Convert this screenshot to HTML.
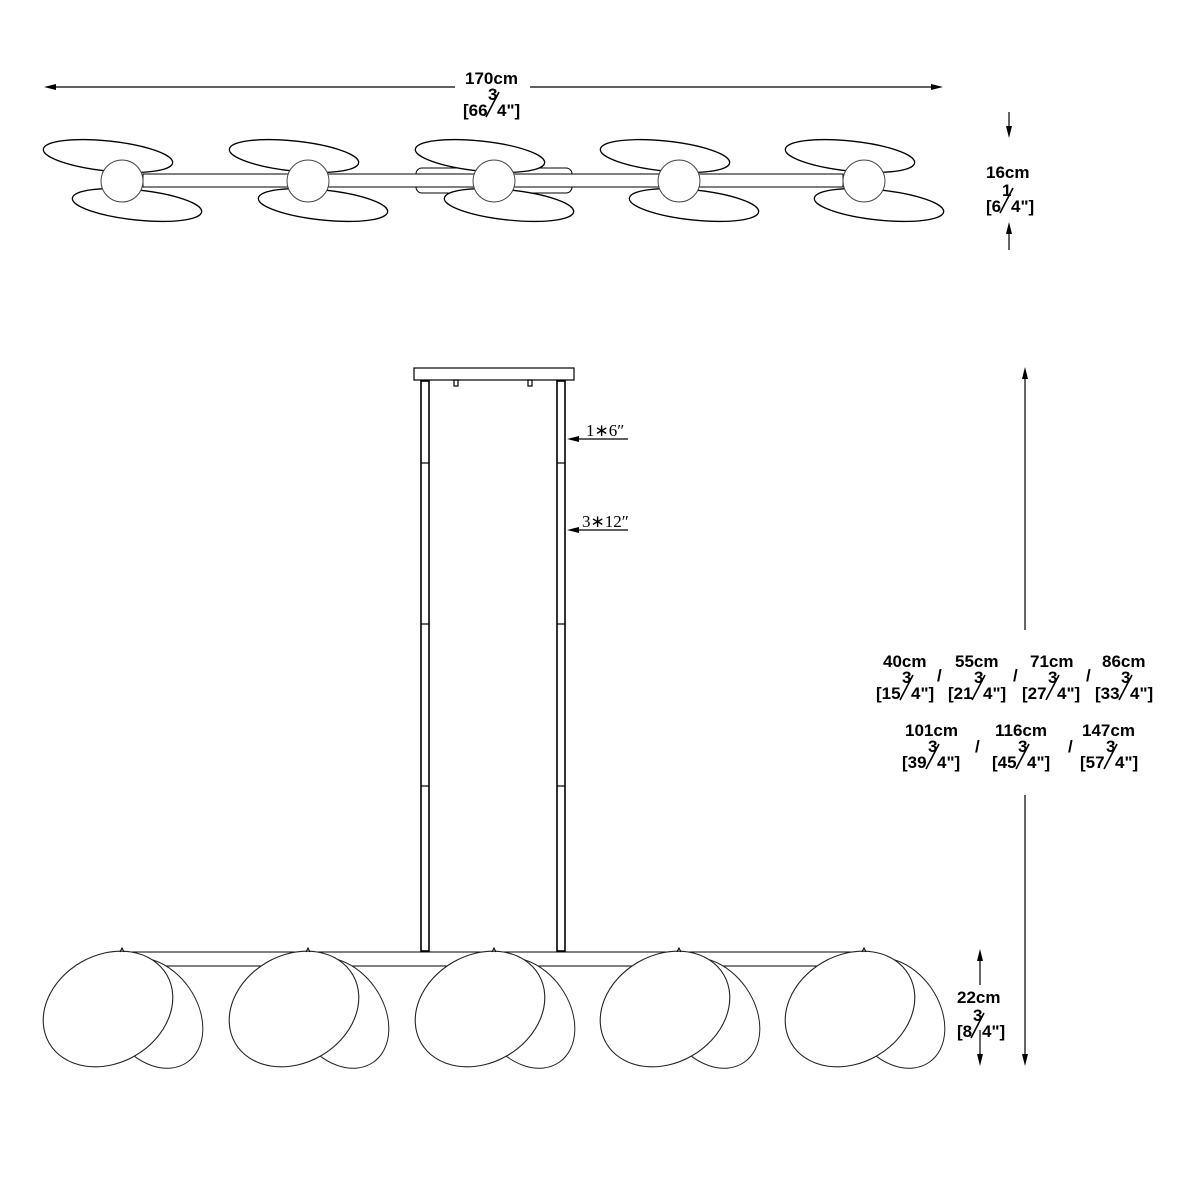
<!DOCTYPE html>
<html><head><meta charset="utf-8"><style>body{margin:0;background:#fff}svg{display:block}text{font-family:"Liberation Sans",Arial,sans-serif;font-size:17px;font-weight:bold;fill:#000}.s{font-family:"Liberation Serif",serif;font-size:17px;font-weight:normal}</style></head><body>
<svg width="1200" height="1200" viewBox="0 0 1200 1200" xmlns="http://www.w3.org/2000/svg">
<defs>
<g id="tu">
<ellipse cx="-14" cy="-25" rx="65" ry="15" transform="rotate(6 -14 -25)" fill="#fff" stroke="#000" stroke-width="1.3"/>
<ellipse cx="15" cy="24" rx="65" ry="15" transform="rotate(6 15 24)" fill="#fff" stroke="#000" stroke-width="1.3"/>
<circle cx="0" cy="0" r="21" fill="#fff" stroke="#444" stroke-width="1"/>
</g>
<g id="bu">
<ellipse cx="45" cy="4" rx="60" ry="44" transform="rotate(55 45 4)" fill="#fff" stroke="#222" stroke-width="1"/>
<ellipse cx="0" cy="0" rx="68" ry="54" transform="rotate(-30)" fill="#fff" stroke="#222" stroke-width="1.1"/>
<path d="M12,-57 l2,-4 l2,4" fill="none" stroke="#000"/>
</g>
</defs>
<g fill="none" stroke="#000" stroke-width="1.3">
<line x1="50" y1="87" x2="455" y2="87"/><line x1="530" y1="87" x2="937" y2="87"/>
</g>
<polygon points="44,87 56,84 56,90" fill="#000"/>
<polygon points="943,87 931,84 931,90" fill="#000"/>
<g fill="none" stroke="#000">
<rect x="416" y="168" width="156" height="25" rx="6" stroke-width="1"/>
<rect x="143" y="174" width="700" height="13" fill="#fff" stroke-width="1"/>
</g>
<use href="#tu" x="122" y="181"/>
<use href="#tu" x="308" y="181"/>
<use href="#tu" x="494" y="181"/>
<use href="#tu" x="679" y="181"/>
<use href="#tu" x="864" y="181"/>
<g fill="none" stroke="#000" stroke-width="1.2">
<line x1="1009" y1="112" x2="1009" y2="130"/>
<line x1="1009" y1="250" x2="1009" y2="230"/>
<rect x="414" y="368" width="160" height="12" fill="#fff"/>
<rect x="454" y="380" width="4" height="6"/><rect x="528" y="380" width="4" height="6"/>
<rect x="421" y="381" width="8" height="570" stroke-width="1.6"/>
<rect x="557" y="381" width="8" height="570" stroke-width="1.6"/>
<line x1="421" y1="463" x2="429" y2="463"/><line x1="557" y1="463" x2="565" y2="463"/>
<line x1="421" y1="624" x2="429" y2="624"/><line x1="557" y1="624" x2="565" y2="624"/>
<line x1="421" y1="786" x2="429" y2="786"/><line x1="557" y1="786" x2="565" y2="786"/>
<line x1="628" y1="439" x2="575" y2="439"/>
<line x1="628" y1="530" x2="575" y2="530"/>
<line x1="122" y1="952" x2="866" y2="952" stroke-width="1"/>
<line x1="150" y1="966" x2="890" y2="966" stroke-width="1"/>
<line x1="1025" y1="630" x2="1025" y2="378"/>
<line x1="1025" y1="795" x2="1025" y2="1055"/>
<line x1="980" y1="985" x2="980" y2="960"/>
<line x1="980" y1="1030" x2="980" y2="1055"/>
</g>
<g fill="#000">
<polygon points="1009,138 1006,126 1012,126"/>
<polygon points="1009,222 1006,234 1012,234"/>
<polygon points="567,439 579,436 579,442"/>
<polygon points="567,530 579,527 579,533"/>
<polygon points="1025,367 1022,379 1028,379"/>
<polygon points="1025,1066 1022,1054 1028,1054"/>
<polygon points="980,949 977,961 983,961"/>
<polygon points="980,1066 977,1054 983,1054"/>
</g>
<use href="#bu" x="108" y="1009"/>
<use href="#bu" x="294" y="1009"/>
<use href="#bu" x="480" y="1009"/>
<use href="#bu" x="665" y="1009"/>
<use href="#bu" x="850" y="1009"/>
<g stroke="#000" stroke-width="1.6">
<line x1="486" y1="117" x2="499" y2="92"/>
<line x1="1000" y1="213" x2="1013" y2="188"/>
<line x1="971" y1="1038" x2="984" y2="1013"/>
<line x1="900" y1="700" x2="913" y2="675"/>
<line x1="972" y1="700" x2="985" y2="675"/>
<line x1="1046" y1="700" x2="1059" y2="675"/>
<line x1="1119" y1="700" x2="1132" y2="675"/>
<line x1="926" y1="769" x2="939" y2="744"/>
<line x1="1016" y1="769" x2="1029" y2="744"/>
<line x1="1104" y1="769" x2="1117" y2="744"/>
</g>
<text x="465" y="84">170cm</text>
<text x="463" y="116">[66</text><text x="488" y="100">3</text><text x="497" y="116">4"]</text>
<text x="986" y="178">16cm</text>
<text x="986" y="212">[6</text><text x="1002" y="196">1</text><text x="1011" y="212">4"]</text>
<text x="957" y="1003">22cm</text>
<text x="957" y="1037">[8</text><text x="973" y="1021">3</text><text x="982" y="1037">4"]</text>
<text class="s" x="586" y="436">1∗6″</text>
<text class="s" x="582" y="527">3∗12″</text>
<text x="883" y="667">40cm</text><text x="876" y="699">[15</text><text x="902" y="683">3</text><text x="911" y="699">4"]</text><text x="937" y="681">/</text>
<text x="955" y="667">55cm</text><text x="948" y="699">[21</text><text x="974" y="683">3</text><text x="983" y="699">4"]</text><text x="1013" y="681">/</text>
<text x="1030" y="667">71cm</text><text x="1022" y="699">[27</text><text x="1048" y="683">3</text><text x="1057" y="699">4"]</text><text x="1086" y="681">/</text>
<text x="1102" y="667">86cm</text><text x="1095" y="699">[33</text><text x="1121" y="683">3</text><text x="1130" y="699">4"]</text>
<text x="905" y="736">101cm</text><text x="902" y="768">[39</text><text x="928" y="752">3</text><text x="937" y="768">4"]</text><text x="975" y="752">/</text>
<text x="995" y="736">116cm</text><text x="992" y="768">[45</text><text x="1018" y="752">3</text><text x="1027" y="768">4"]</text><text x="1068" y="752">/</text>
<text x="1082" y="736">147cm</text><text x="1080" y="768">[57</text><text x="1106" y="752">3</text><text x="1115" y="768">4"]</text>
</svg>
</body></html>
